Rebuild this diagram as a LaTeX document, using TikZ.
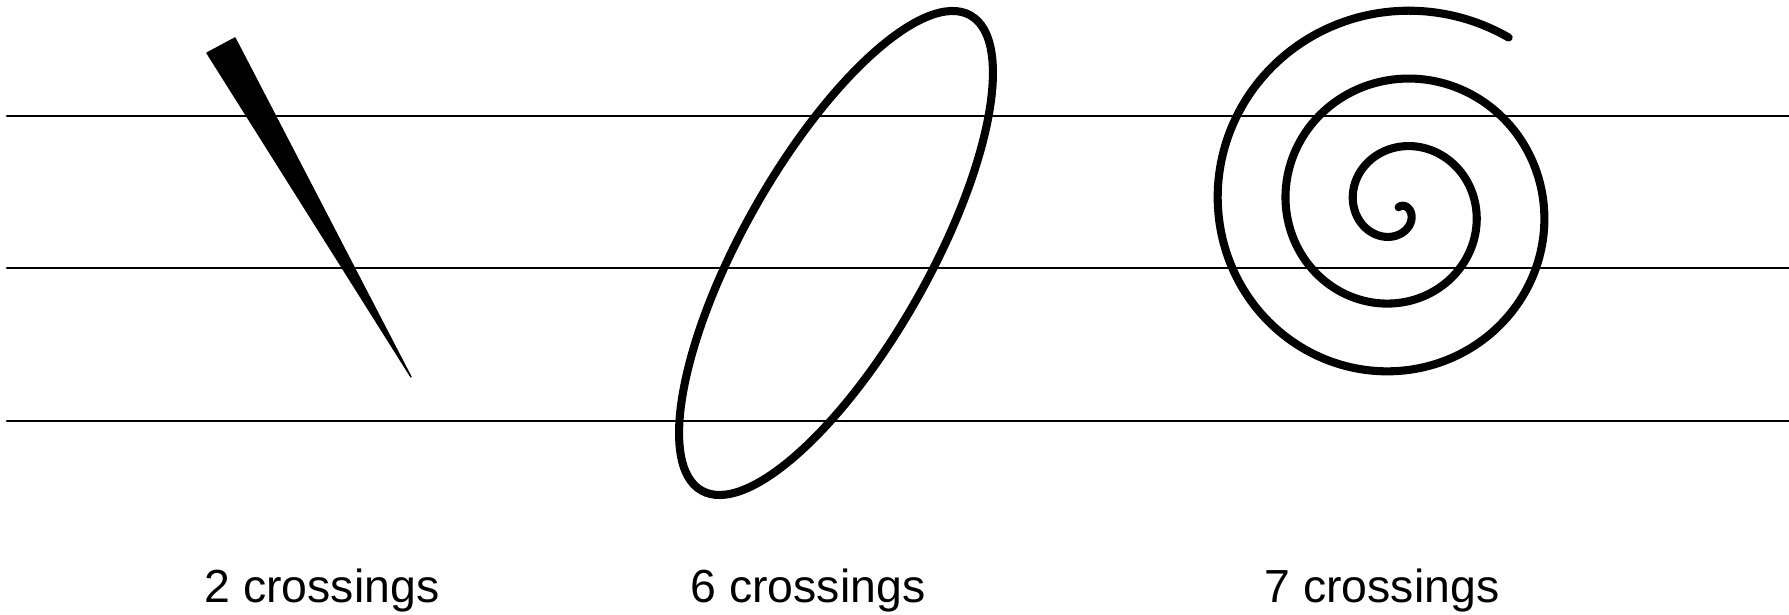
\documentclass[tikz,border=0pt]{standalone}
\usepackage{fontspec}
\setmainfont{Liberation Sans}
\usetikzlibrary{positioning}
\tikzset{
  staffline/.style={line width=0.75pt, line cap=round},
  thickcurve/.style={line width=2.3pt, line cap=round},
  caption/.style={anchor=base, font=\fontsize{13.2}{16}\selectfont}
}

\begin{document}
\begin{tikzpicture}
  \useasboundingbox (0,0) rectangle (17.89,6.15);
  \foreach \y in {4.99,3.47,1.94}
    \draw[staffline] (0.07,\y) -- (17.89,\y);
  \filldraw[line width=0.4pt, line join=round] (2.07,5.62) -- (2.35,5.77) -- (4.11,2.38) -- cycle;
  \draw[thickcurve] (8.36,3.62) ellipse[x radius=2.73, y radius=0.93, rotate=60.5];
  \draw[thickcurve] plot[variable=\t, domain=-48:1023, samples=500, smooth]
    ({13.98+(0.10+0.68*\t/360)*cos(\t)}, {4.07-(0.10+0.68*\t/360)*sin(\t)});
  \node[caption] (cap2) at (3.22,0.12) {2 crossings};
  \node[caption] (cap6) at (8.08,0.12) {6 crossings};
  \node[caption] (cap7) at (13.82,0.12) {7 crossings};
\end{tikzpicture}
\end{document}
